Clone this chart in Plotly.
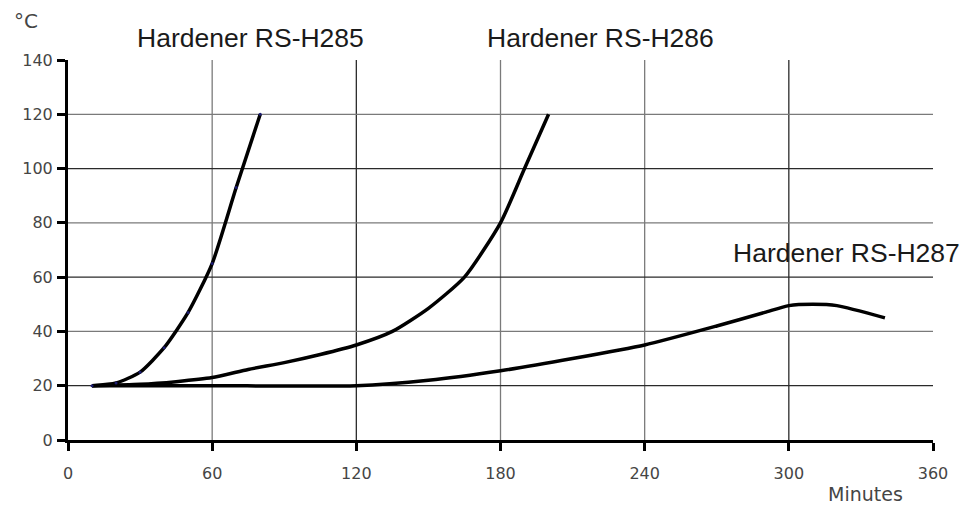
import plotly.graph_objects as go

# ---- data ----
x_h285 = [10, 20, 30, 40, 50, 60, 70, 80]
y_h285 = [20, 21, 25, 34, 47, 65, 93, 120]

x_h286 = [10, 30, 45, 60, 75, 90, 105, 120, 135, 150, 165, 180, 190, 200]
y_h286 = [20, 20.5, 21.5, 23, 26, 28.5, 31.5, 35, 40, 48.5, 60, 80, 100, 120]

x_h287 = [10, 60, 120, 150, 180, 210, 240, 270, 290, 300, 310, 320, 340]
y_h287 = [20, 20, 20, 22, 25.5, 30, 35, 42, 47, 49.5, 50, 49.5, 45]

x_ticks = [0, 60, 120, 180, 240, 300, 360]
y_ticks = [0, 20, 40, 60, 80, 100, 120, 140]
x_grid = [60, 120, 180, 240, 300]
y_grid = [20, 40, 60, 80, 100, 120]
dark_x_grid = [120, 300]
dark_y_grid = [20, 60, 100]

series_names = ["Hardener RS-H285", "Hardener RS-H286", "Hardener RS-H287"]

fig = go.Figure()

# gridlines (drawn below traces)
for v in x_grid:
    fig.add_shape(type="line", xref="x", yref="y", x0=v, x1=v, y0=0, y1=140,
                  line=dict(color="#2a2a2a" if v in dark_x_grid else "#7a7a7a", width=1.3),
                  layer="below")
for h in y_grid:
    fig.add_shape(type="line", xref="x", yref="y", x0=0, x1=360, y0=h, y1=h,
                  line=dict(color="#2a2a2a" if h in dark_y_grid else "#7a7a7a", width=1.3),
                  layer="below")

for xs, ys, name in [(x_h287, y_h287, series_names[2]),
                     (x_h286, y_h286, series_names[1]),
                     (x_h285, y_h285, series_names[0])]:
    fig.add_trace(go.Scatter(
        x=xs, y=ys, name=name, mode="lines",
        line=dict(color="black", width=3.5, shape="spline", smoothing=0.6),
        showlegend=False, hoverinfo="x+y+name",
    ))

# small navy data points on H285 curve (as in the original)
fig.add_trace(go.Scatter(x=x_h285, y=y_h285, mode="markers",
                         marker=dict(color="#1c1c70", size=3),
                         showlegend=False, hoverinfo="skip"))

label_font = dict(family="Liberation Sans, Arial, sans-serif", size=26.5, color="#1a1a1a")
fig.add_annotation(text=series_names[0], xref="paper", yref="paper",
                   x=(250 - 68) / 865, y=1 + (60 - 38) / 380, showarrow=False,
                   font=label_font, xanchor="center", yanchor="middle")
fig.add_annotation(text=series_names[1], xref="paper", yref="paper",
                   x=(600 - 68) / 865, y=1 + (60 - 38) / 380, showarrow=False,
                   font=label_font, xanchor="center", yanchor="middle")
fig.add_annotation(text=series_names[2], xref="paper", yref="paper",
                   x=(846 - 68) / 865, y=(440 - 253) / 380, showarrow=False,
                   font=label_font, xanchor="center", yanchor="middle")

tick_font = dict(family="DejaVu Sans, sans-serif", size=16, color="#454545")
fig.add_annotation(text="°C", xref="paper", yref="paper",
                   x=(26 - 68) / 865, y=1 + (60 - 21) / 380, showarrow=False,
                   font=dict(family="DejaVu Sans, sans-serif", size=20, color="#454545"),
                   xanchor="center", yanchor="middle")
fig.add_annotation(text="Minutes", xref="paper", yref="paper",
                   x=(865 - 68) / 865, y=-(494 - 440) / 380, showarrow=False,
                   font=dict(family="DejaVu Sans, sans-serif", size=19, color="#454545"),
                   xanchor="center", yanchor="middle")

fig.update_layout(
    width=970, height=508,
    margin=dict(l=68, r=37, t=60, b=68),
    paper_bgcolor="white", plot_bgcolor="white",
    xaxis=dict(range=[0, 360], tickvals=x_ticks, showgrid=False, zeroline=False,
               showline=True, linecolor="black", linewidth=3,
               ticks="outside", ticklen=8, tickwidth=3, tickcolor="black",
               tickfont=tick_font, ticklabelstandoff=9),
    yaxis=dict(range=[0, 140], tickvals=y_ticks, showgrid=False, zeroline=False,
               showline=True, linecolor="black", linewidth=3,
               ticks="outside", ticklen=8, tickwidth=3, tickcolor="black",
               tickfont=tick_font, ticklabelstandoff=1),
)

fig.write_html("out.html")
